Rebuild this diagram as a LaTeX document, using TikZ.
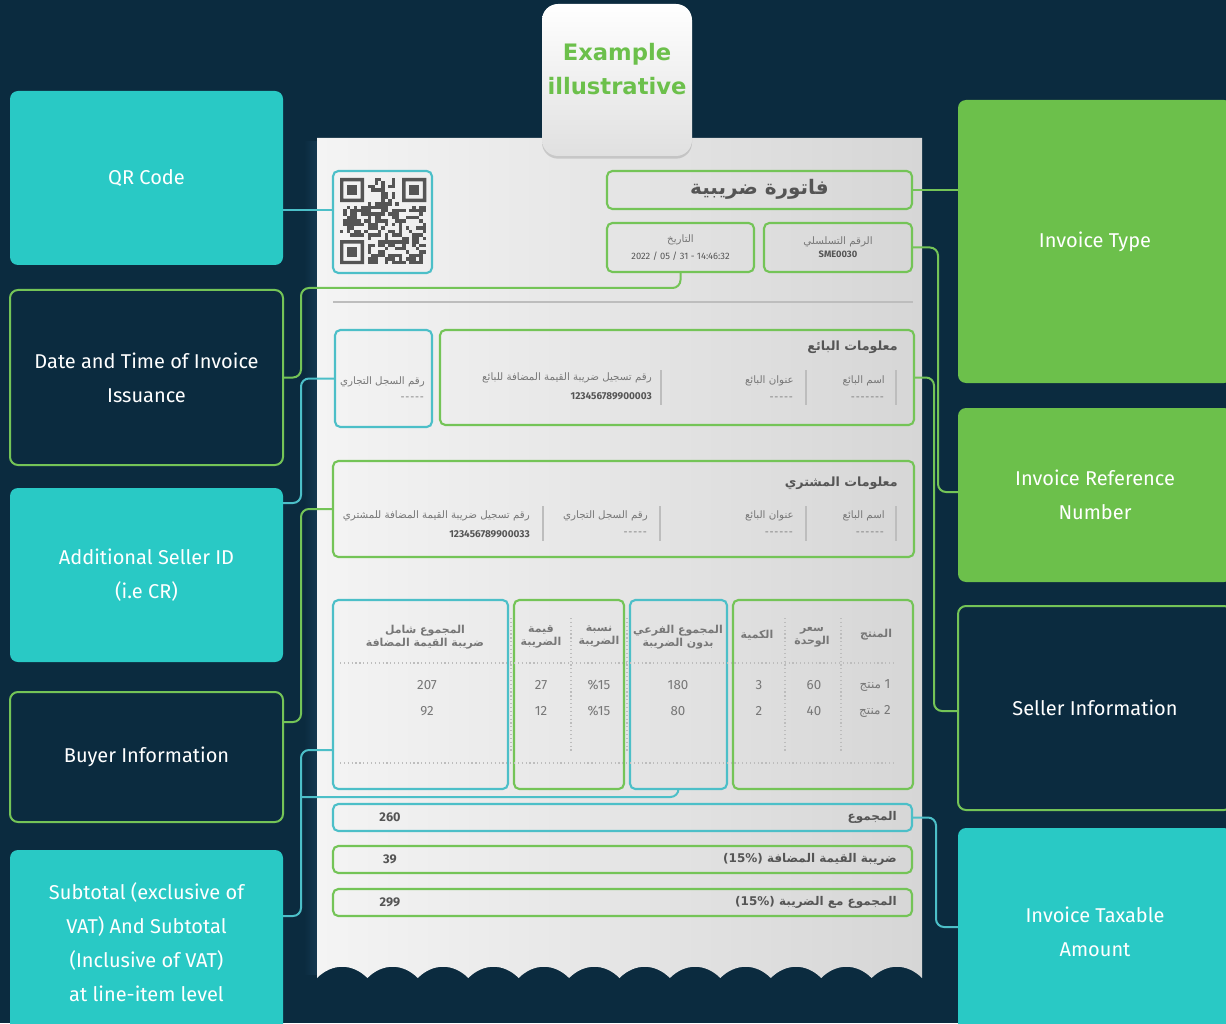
\documentclass[tikz,border=0pt]{standalone}
\usepackage{fontspec}
\setmainfont{Fira Sans}
\newfontfamily\arfont[Script=Arabic]{DejaVu Sans}
\newfontfamily\djfont{DejaVu Sans}
\TeXXeTstate=1
\usetikzlibrary{shadows}
\definecolor{bgc}{HTML}{0B2B3F}
\definecolor{shadc}{HTML}{143850}
\definecolor{tealF}{HTML}{29C9C5}
\definecolor{greenF}{HTML}{6CC04B}
\definecolor{tealL}{HTML}{4CBFC8}
\definecolor{greenL}{HTML}{74C457}
\definecolor{paperL}{HTML}{F4F4F4}
\definecolor{paperR}{HTML}{D6D6D6}
\definecolor{txtg}{HTML}{555555}
\definecolor{txtl}{HTML}{777777}
\definecolor{qrg}{HTML}{555555}
\definecolor{sepg}{HTML}{BDBDBD}
\definecolor{tabB}{HTML}{E0E0E0}
\definecolor{greenT}{HTML}{6CC04B}
\newcommand{\AR}[1]{\beginR #1\endR}
\newcommand{\dsh}[1]{\foreach \n in {1,...,#1}{-\kern0.6pt}}
\begin{document}
\begin{tikzpicture}[x=0.75pt,y=-0.75pt,
  lbl/.style={rounded corners=6pt, minimum width=204.75pt, align=center, text=white,
    font=\fontsize{15}{25.5}\selectfont, inner sep=0pt, outer sep=0pt},
  tealbox/.style={lbl, fill=tealF},
  greenbox/.style={lbl, fill=greenF},
  darkbox/.style={lbl, fill=bgc, draw=greenL, line width=1.5pt},
  con/.style={line width=1.5pt, rounded corners=6pt},
  pbox/.style={rounded corners=4pt, line width=1.6pt, inner sep=0pt, outer sep=0pt},
  gbox/.style={pbox, draw=greenL},
  tbox/.style={pbox, draw=tealL},
  artx/.style={font=\arfont\fontsize{7.7}{9}\selectfont, text=txtl, inner sep=0pt},
  artxb/.style={font=\arfont\bfseries\fontsize{9.5}{12}\selectfont, text=txtg, inner sep=0pt},
  thead/.style={font=\arfont\bfseries\fontsize{8.2}{9.75}\selectfont, text=txtl, inner sep=0pt, align=center},
  tval/.style={font=\fontsize{10}{12}\selectfont, text=txtl, inner sep=0pt},
  numtx/.style={font=\bfseries\fontsize{7.5}{9}\selectfont, text=txtg, inner sep=0pt},
  dashtx/.style={font=\fontsize{7.5}{9}\selectfont, text=txtl, inner sep=0pt},
  tottx/.style={font=\arfont\bfseries\fontsize{9}{11}\selectfont, text=txtg, inner sep=0pt},
  totnum/.style={font=\bfseries\fontsize{9.5}{11}\selectfont, text=txtg, inner sep=0pt},
  sepline/.style={sepg, line width=0.8pt},
  dotline/.style={sepg, line width=0.9pt, dotted}
]
\useasboundingbox (0,0) rectangle (1226,1023);
\begin{scope}
\clip (0,0) rectangle (1226,1023);
\fill[bgc] (0,0) rectangle (1226,1023);

% ---------- left labels
\node[tealbox, minimum height=130.5pt] (qrL) at (146.5,178) {QR Code};
\node[darkbox, minimum height=131.25pt] (dateL) at (146.5,377.5) {Date and Time of Invoice\\Issuance};
\node[tealbox, minimum height=130.5pt] (cridL) at (146.5,575) {Additional Seller ID\\(i.e CR)};
\node[darkbox, minimum height=97.5pt] (buyL) at (146.5,757) {Buyer Information};
\node[tealbox, minimum height=138.75pt] (subL) at (146.5,942.5) {Subtotal (exclusive of\\VAT) And Subtotal\\(Inclusive of VAT)\\at line-item level};

% ---------- right labels
\node[greenbox, minimum width=205.5pt, minimum height=212.25pt] (typeR) at (1095,241.5) {Invoice Type};
\node[greenbox, minimum width=205.5pt, minimum height=130.5pt] (refR) at (1095,495) {Invoice Reference\\Number};
\node[darkbox, minimum width=205.5pt, minimum height=153pt] (selR) at (1095,708) {Seller Information};
\node[tealbox, minimum width=205.5pt, minimum height=155.25pt] (taxR) at (1095,931.5) {Invoice Taxable\\Amount};

% ---------- paper
\shade[left color=bgc, right color=shadc] (304,142) rectangle (317,974);
\shade[left color=paperL, right color=paperR] (317,138) -- (922,138) -- (922,978)
 .. controls (907,963) and (886.6,963) .. (871.6,978)
 .. controls (856.6,963) and (836.2,963) .. (821.2,978)
 .. controls (806.2,963) and (785.8,963) .. (770.8,978)
 .. controls (755.8,963) and (735.3,963) .. (720.3,978)
 .. controls (705.3,963) and (684.9,963) .. (669.9,978)
 .. controls (654.9,963) and (634.5,963) .. (619.5,978)
 .. controls (604.5,963) and (584.1,963) .. (569.1,978)
 .. controls (554.1,963) and (533.7,963) .. (518.7,978)
 .. controls (503.7,963) and (483.3,963) .. (468.3,978)
 .. controls (453.3,963) and (432.8,963) .. (417.8,978)
 .. controls (402.8,963) and (382.4,963) .. (367.4,978)
 .. controls (352.4,963) and (332,963) .. (317,978) -- cycle;

% ---------- tab
\node[rounded corners=12pt, minimum width=112.5pt, minimum height=114pt, top color=white,
  bottom color=tabB, drop shadow={opacity=0.3, shadow xshift=0pt, shadow yshift=-2pt}] (tab) at (617,80) {};
\node[font=\djfont\bfseries\fontsize{17}{25.5}\selectfont, text=greenT, align=center] (tabtxt) at (617,69) {Example\\illustrative};

% ---------- header area
\node[tbox, minimum width=74.25pt, minimum height=76.5pt] (qrbox) at (382.5,222) {};
\pgfmathsetseed{4242}
\foreach \i in {0,...,24}{
  \foreach \j in {0,...,24}{
    \pgfmathsetmacro\rr{rnd}
    \pgfmathtruncatemacro\infd{(((\i<8)&&(\j<8)) || ((\i>16)&&(\j<8)) || ((\i<8)&&(\j>16))) ? 1 : 0}
    \ifnum\infd=0 \ifdim\rr pt>0.48pt
      \fill[qrg] (340+\i*3.45,178+\j*3.45) rectangle ++(3.45,3.45);
    \fi\fi
  }}
\foreach \fx/\fy in {340/178, 402.1/178, 340/240.1}{
  \fill[qrg, even odd rule] (\fx,\fy) rectangle ++(24.15,24.15) (\fx+3.45,\fy+3.45) rectangle ++(17.25,17.25);
  \fill[qrg] (\fx+6.9,\fy+6.9) rectangle ++(10.35,10.35);
}

\node[gbox, minimum width=228.75pt, minimum height=28.5pt] (titlebox) at (759.5,190) {};
\node[font=\arfont\bfseries\fontsize{15}{18}\selectfont, text=txtg, inner sep=0pt] (titletx) at (759.5,189) {\AR{فاتورة ضريبية}};

\node[gbox, minimum width=110.25pt, minimum height=36.75pt] (datebox) at (680.5,247.5) {};
\node[artx] (datelbl) at (680.5,240) {\AR{التاريخ}};
\node[numtx, font=\fontsize{7}{9}\selectfont] (dateval) at (680.5,256) {2022 / 05 / 31 - 14:46:32};

\node[gbox, minimum width=111pt, minimum height=36.75pt] (serialbox) at (838,247.5) {};
\node[artx] (serlbl) at (838,242) {\AR{الرقم التسلسلي}};
\node[numtx, font=\bfseries\fontsize{7}{9}\selectfont] (serval) at (838,254) {SME0030};

\draw[sepline] (333,302) -- (913,302);

% ---------- seller
\node[tbox, minimum width=72.75pt, minimum height=72.75pt] (crbox) at (383.5,378.5) {};
\node[artx, anchor=east] (crlbl) at (425,382) {\AR{رقم السجل التجاري}};
\node[dashtx, anchor=east] (crval) at (425,399) {\dsh{5}};

\node[gbox, minimum width=355.5pt, minimum height=71.25pt] (sellerbox) at (677,377.5) {};
\node[artxb, anchor=east] (sellttl) at (898,347) {\AR{معلومات البائع}};
\foreach \sx in {896,806,661}{\draw[sepline] (\sx,370) -- (\sx,405);}
\node[artx, anchor=east] (sname) at (885,381) {\AR{اسم البائع}};
\node[dashtx, anchor=east] (snamev) at (885,399) {\dsh{7}};
\node[artx, anchor=east] (saddr) at (794,381) {\AR{عنوان البائع}};
\node[dashtx, anchor=east] (saddrv) at (794,399) {\dsh{5}};
\node[artx, anchor=east] (svat) at (652,378) {\AR{رقم تسجيل ضريبة القيمة المضافة للبائع}};
\node[numtx, anchor=east] (svatv) at (652,396) {123456789900003};

% ---------- buyer
\node[gbox, minimum width=435.75pt, minimum height=72pt] (buyerbox) at (623.5,509) {};
\node[artxb, anchor=east] (buyttl) at (898,483) {\AR{معلومات المشتري}};
\foreach \sx in {896,806,660,543}{\draw[sepline] (\sx,506) -- (\sx,541);}
\node[artx, anchor=east] (bname) at (885,516) {\AR{اسم البائع}};
\node[dashtx, anchor=east] (bnamev) at (885,534) {\dsh{6}};
\node[artx, anchor=east] (baddr) at (794,516) {\AR{عنوان البائع}};
\node[dashtx, anchor=east] (baddrv) at (794,534) {\dsh{6}};
\node[artx, anchor=east] (bcr) at (648,516) {\AR{رقم السجل التجاري}};
\node[dashtx, anchor=east] (bcrv) at (648,534) {\dsh{5}};
\node[artx, anchor=east] (bvat) at (530,516) {\AR{رقم تسجيل ضريبة القيمة المضافة للمشتري}};
\node[numtx, anchor=east] (bvatv) at (530,534) {123456789900033};

% ---------- table
\node[tbox, minimum width=131.25pt, minimum height=141.75pt] (tbl1) at (420.5,694.5) {};
\node[gbox, minimum width=82.5pt, minimum height=141.75pt] (tbl2) at (569,694.5) {};
\node[tbox, minimum width=72.75pt, minimum height=141.75pt] (tbl3) at (678.5,694.5) {};
\node[gbox, minimum width=135pt, minimum height=141.75pt] (tbl4) at (823,694.5) {};
\draw[dotline] (340,663) -- (895,663);
\draw[dotline] (340,763) -- (895,763);
\foreach \vx in {511,571,627,785,841}{\draw[dotline] (\vx,618) -- (\vx,752);}

\node[thead] (h1) at (425,637) {\AR{المجموع شامل}\\\AR{ضريبة القيمة المضافة}};
\node[thead] (h2) at (541,637) {\AR{قيمة}\\\AR{الضريبة}};
\node[thead] (h3) at (599,637) {\AR{نسبة}\\\AR{الضريبة}};
\node[thead] (h4) at (678,637) {\AR{المجموع الفرعي}\\\AR{بدون الضريبة}};
\node[thead] (h5) at (757,635) {\AR{الكمية}};
\node[thead] (h6) at (812,637) {\AR{سعر}\\\AR{الوحدة}};
\node[thead] (h7) at (876,635) {\AR{المنتج}};

\node[tval] (v11) at (427,685) {207};
\node[tval] (v12) at (541,685) {27};
\node[tval] (v13) at (599,685) {\%15};
\node[tval] (v14) at (678,685) {180};
\node[tval] (v15) at (759,685) {3};
\node[tval] (v16) at (814,685) {60};
\node[tval] (v17) at (875,685) {{\arfont\fontsize{9}{11}\selectfont\AR{منتج}} 1};
\node[tval] (v21) at (427,711) {92};
\node[tval] (v22) at (541,711) {12};
\node[tval] (v23) at (599,711) {\%15};
\node[tval] (v24) at (678,711) {80};
\node[tval] (v25) at (759,711) {2};
\node[tval] (v26) at (814,711) {40};
\node[tval] (v27) at (875,711) {{\arfont\fontsize{9}{11}\selectfont\AR{منتج}} 2};

% ---------- totals
\node[tbox, minimum width=434.25pt, minimum height=20.25pt] (sumbox) at (622.5,817.5) {};
\node[gbox, minimum width=434.25pt, minimum height=20.25pt] (vatbox) at (622.5,859.5) {};
\node[gbox, minimum width=434.25pt, minimum height=20.25pt] (totbox) at (622.5,902.5) {};
\node[totnum] (sumv) at (390,817.5) {260};
\node[tottx, anchor=east] (sumt) at (897,817.5) {\AR{المجموع}};
\node[totnum] (vatv) at (390,859.5) {39};
\node[tottx, anchor=east] (vatt) at (897,859.5) {{\bfseries\fontsize{9}{11}\selectfont (15\%)} \AR{ضريبة القيمة المضافة}};
\node[totnum] (totv) at (390,902.5) {299};
\node[tottx, anchor=east] (tott) at (897,902.5) {{\bfseries\fontsize{9}{11}\selectfont (15\%)} \AR{المجموع مع الضريبة}};

% ---------- connectors
\coordinate (q1) at (0,210);
\coordinate (d1) at (301,288);
\coordinate (c2) at (301,503);
\coordinate (b2) at (301,722);
\coordinate (s1) at (0,750);
\coordinate (s2) at (301,916);
\coordinate (s3) at (301,797);
\coordinate (r1) at (938,492);
\coordinate (r2) at (934,711);
\coordinate (r3) at (936,927);

\draw[con, tealL] (qrbox.west |- q1) -- (qrL.east |- q1);
\draw[con, greenL] (datebox.south) |- (d1) |- (dateL.east);
\draw[con, tealL] (crbox.west) -| (c2) -- (cridL.east |- c2);
\draw[con, greenL] (buyerbox.west) -| (b2) -- (buyL.east |- b2);
\draw[con, tealL] (tbl1.west |- s1) -| (s2) -- (subL.east |- s2);
\draw[con, tealL] (s3) -| (tbl3.south);

\draw[con, greenL] (titlebox.east) -- (typeR.west |- titlebox.east);
\draw[con, greenL] (serialbox.east) -| (r1) -- (refR.west |- r1);
\draw[con, greenL] (sellerbox.east) -| (r2) -- (selR.west |- r2);
\draw[con, tealL] (sumbox.east) -| (r3) -- (taxR.west |- r3);
\end{scope}
\end{tikzpicture}
\end{document}
